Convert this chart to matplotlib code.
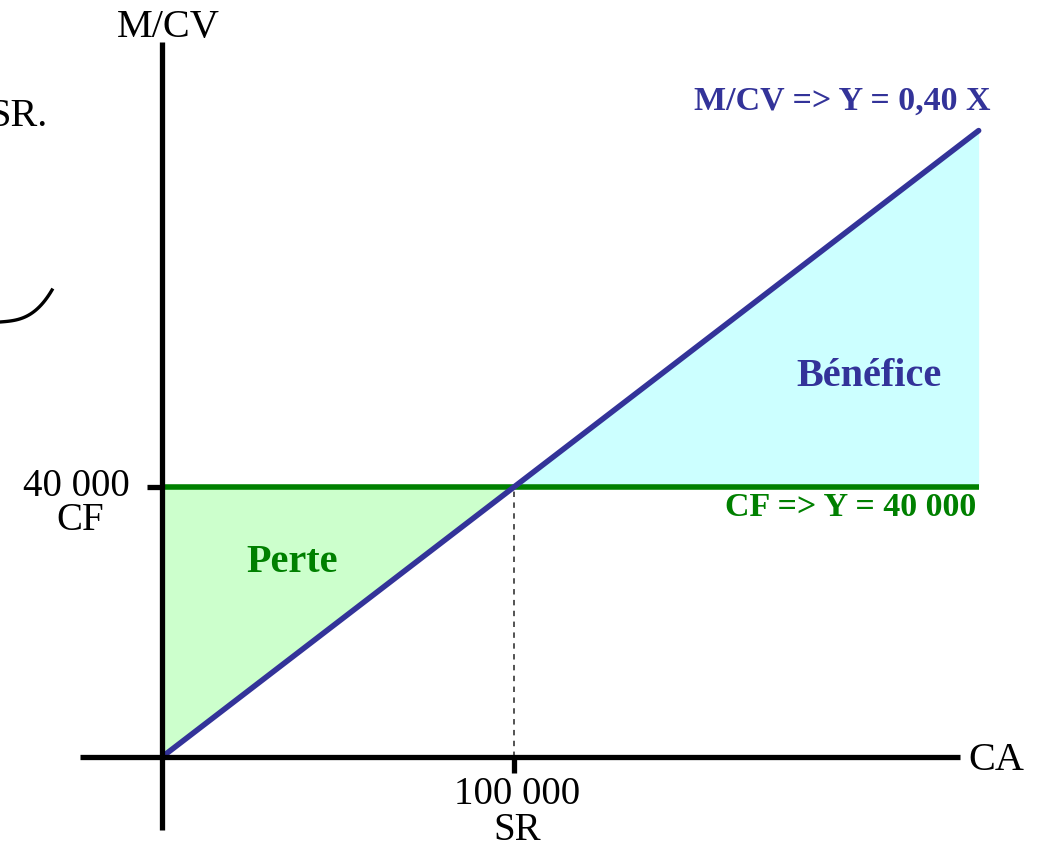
import numpy as np
import matplotlib
matplotlib.use("Agg")
import matplotlib.pyplot as plt

# donnees du seuil de rentabilite
taux_mcv = 0.40          # M/CV => Y = 0,40 X
charges_fixes = 40000    # CF => Y = 40 000
seuil = charges_fixes / taux_mcv   # SR = 100 000
ca_max = 232000
ca = np.array([0, seuil, ca_max])
mcv = taux_mcv * ca
cf = np.full_like(ca, charges_fixes)

plt.rcParams["font.family"] = ["Liberation Serif", "DejaVu Serif"]

W, H = 1037, 848
fig = plt.figure(figsize=(W / 100, H / 100), dpi=100)
ax = fig.add_axes([0, 0, 1, 1])

# echelle : origine au pixel (162, 757), 352 px pour 100 000, 270 px pour 40 000
ox, oy = 162, 757
sx = 352 / seuil
sy = 270 / charges_fixes
ax.set_xlim(-ox / sx, (W - ox) / sx)
ax.set_ylim(-(H - oy) / sy, oy / sy)
ax.axis("off")


def px(x, y):
    return (x - ox) / sx, (oy - y) / sy


vert = "#008000"
bleu = "#333399"

# zones perte / benefice
ax.fill_between(ca, mcv, cf, where=ca <= seuil, color="#ccffcc", lw=0, zorder=1)
ax.fill_between(ca, mcv, cf, where=ca >= seuil, color="#ccffff", lw=0, zorder=1)

# droites
ax.plot(ca, cf, color=vert, lw=4, solid_capstyle="butt", zorder=3)
ax.plot(ca, mcv, color=bleu, lw=4, solid_capstyle="round", zorder=4)
ax.plot([seuil, seuil], [0, charges_fixes], color="#444444", lw=1.3,
        ls=(0, (3, 3)), zorder=2)

# axes
x0, _ = px(80, 0)
x1, _ = px(960, 0)
_, y0 = px(0, 830)
_, y1 = px(0, 42)
ax.plot([x0, x1], [0, 0], color="black", lw=3.8, solid_capstyle="butt", zorder=5)
ax.plot([0, 0], [y0, y1], color="black", lw=3.8, solid_capstyle="butt", zorder=5)
ax.plot([px(147, 0)[0], 0], [charges_fixes, charges_fixes], color="black", lw=3.8,
        solid_capstyle="butt", zorder=5)
ax.plot([seuil, seuil], [0, px(0, 773)[1]], color="black", lw=3.8,
        solid_capstyle="butt", zorder=5)

# textes
ax.text(*px(168, 27), "M/CV", fontsize=29, ha="center", va="center")
ax.text(*px(968, 760), "CA", fontsize=29, ha="left", va="center")
ax.text(*px(130, 487), "40 000", fontsize=28, ha="right", va="center")
ax.text(*px(80, 521), "CF", fontsize=28, ha="center", va="center")
ax.text(*px(517, 795), "100 000", fontsize=28, ha="center", va="center")
ax.text(*px(517, 830), "SR", fontsize=28, ha="center", va="center")
ax.text(*px(47, 117), "SR.", fontsize=29, ha="right", va="center")

ax.text(*px(990, 101), "M/CV => Y = 0,40 X", fontsize=24.5, fontweight="bold",
        color=bleu, ha="right", va="center")
ax.text(*px(976, 507), "CF => Y = 40 000", fontsize=24.5, fontweight="bold",
        color=vert, ha="right", va="center")
ax.text(*px(869, 377), "Bénéfice", fontsize=29, fontweight="bold",
        color=bleu, ha="center", va="center")
ax.text(*px(292, 562), "Perte", fontsize=29, fontweight="bold",
        color=vert, ha="center", va="center")

# morceau d'accolade en marge
t = np.linspace(0, 1, 30)
bx = [px(x, 0)[0] for x in (0 + 52 * t)]
by = [px(0, y)[1] for y in (322 - 4 * t - 28 * t ** 3)]
ax.plot(bx, by, color="black", lw=2.4)

fig.savefig("out.png", dpi=100)
